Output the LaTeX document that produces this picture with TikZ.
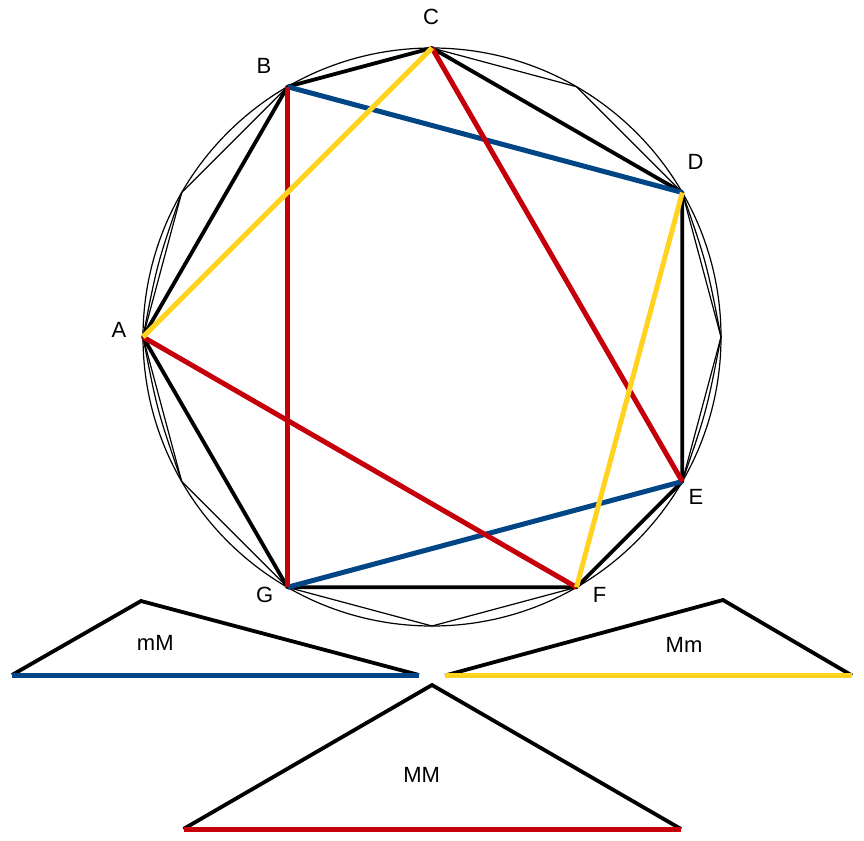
\documentclass[tikz,border=0pt]{standalone}
\usepackage{fontspec}
\setmainfont{Liberation Sans}
\usetikzlibrary{calc}
\definecolor{cblue}{RGB}{0,69,134}
\definecolor{cyellow}{RGB}{255,211,32}
\definecolor{cred}{RGB}{197,0,11}
\begin{document}
\begin{tikzpicture}[x=1pt,y=-1pt,
  lbl/.style={font=\fontsize{22}{26}\selectfont, inner sep=0pt, anchor=center},
  hair/.style={line width=1.2pt, black},
  heavy/.style={line width=3.8pt, black, line join=round, line cap=round},
  bluechord/.style={line width=5pt, cblue},
  yellowchord/.style={line width=5pt, cyellow},
  redchord/.style={line width=5pt, cred},
  edgeline/.style={line width=3.8pt, black, line join=miter},
]
\useasboundingbox (0,0) rectangle (864,840);
\coordinate (O) at (432,337);
\foreach \k in {0,...,11}
  \coordinate (p\k) at ({432+289*cos(30*\k)},{337-289*sin(30*\k)});
% thin circle and 12-gon
\draw[hair] (O) circle[radius=289pt];
\draw[hair] (p0) -- (p1) -- (p2) -- (p3) -- (p4) -- (p5) -- (p6) -- (p7) -- (p8) -- (p9) -- (p10) -- (p11) -- cycle;
% slightly bulged duplicate edges
\foreach \a/\b in {5/6,6/7,11/0,0/1}{
  \coordinate (m\a\b) at ($(p\a)!.5!(p\b)$);
  \coordinate (q\a\b) at ($(O)!1.019!(m\a\b)$);
  \draw[hair] (p\a) .. controls (q\a\b) .. (p\b);
}
% named points
\coordinate (A) at (p6);
\coordinate (B) at (p4);
\coordinate (C) at (p3);
\coordinate (D) at (p1);
\coordinate (E) at (p11);
\coordinate (F) at (p10);
\coordinate (G) at (p8);
% heptagon
\draw[heavy] (A) -- (B) -- (C) -- (D) -- (E) -- (F) -- (G) -- cycle;
% coloured chords
\draw[bluechord] (B) -- (D);
\draw[bluechord] (G) -- (E);
\draw[redchord] (B) -- (G);
\draw[redchord] (C) -- (E);
\draw[redchord] (A) -- (F);
\draw[yellowchord] (A) -- (C);
\draw[yellowchord] (D) -- (F);
% labels
\node[lbl] (lC) at (431,17) {C};
\node[lbl] (lB) at (264,65.5) {B};
\node[lbl] (lD) at (695.5,162) {D};
\node[lbl] (lA) at (119,330) {A};
\node[lbl] (lE) at (696,497) {E};
\node[lbl] (lF) at (599.5,594.5) {F};
\node[lbl] (lG) at (264.7,594.7) {G};
% triangles
\coordinate (t1l) at (12,675);
\coordinate (t1a) at (141,601);
\coordinate (t1r) at (419,675);
\coordinate (t2l) at (445,675.5);
\coordinate (t2a) at (723,600);
\coordinate (t2r) at (852,675.5);
\coordinate (t3l) at (183.5,829);
\coordinate (t3a) at (432,685);
\coordinate (t3r) at (681,829);
\draw[edgeline] (t1l) -- (t1a) -- (t1r);
\draw[edgeline] (t2l) -- (t2a) -- (t2r);
\draw[edgeline] (t3l) -- (t3a) -- (t3r);
\draw[bluechord] (t1l) -- (t1r);
\draw[yellowchord] (t2l) -- (t2r);
\draw[redchord] (t3l) -- (t3r);
\node[lbl] (lmM) at (155.3,642.7) {mM};
\node[lbl] (lMm) at (684,645) {Mm};
\node[lbl] (lMM) at (421.7,774.7) {MM};
\end{tikzpicture}
\end{document}
